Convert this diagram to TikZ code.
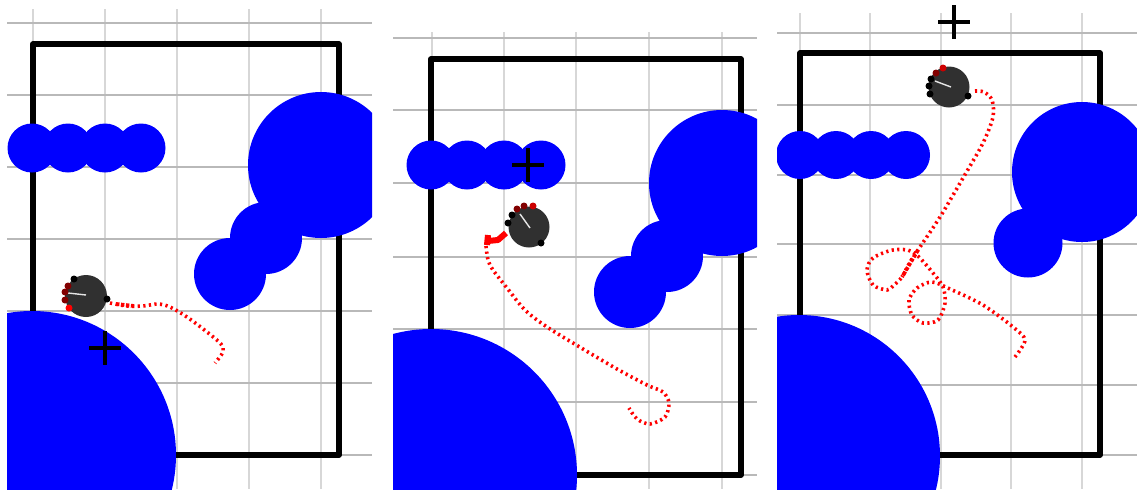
\documentclass[tikz,border=0pt]{standalone}
\usepackage{xcolor}
\definecolor{obst}{RGB}{0,0,255}
\definecolor{body}{RGB}{48,48,48}
\definecolor{gridh}{RGB}{185,185,185}
\definecolor{gridv}{RGB}{215,215,215}
\definecolor{sens}{RGB}{130,0,0}
\usetikzlibrary{calc}
\tikzset{
  gridrow/.style={gridh,line width=0.55pt},
  gridcol/.style={gridv,line width=0.6pt},
  wall/.style={black,line width=2.9pt,line join=round},
  obstacle/.style={fill=obst,draw=none},
  trail/.style={red,line width=1.8pt,dash pattern=on 1.1pt off 1.7pt},
  trailheavy/.style={red,line width=1.9pt,dash pattern=on 1.7pt off 0.8pt},
  trailblob/.style={red,line width=3pt,line join=round},
  goal/.style={black,line width=2.1pt},
  robot/.style={fill=body,draw=none},
  heading/.style={white!90!black,line width=0.7pt}
}
\newcommand{\goalmark}[1]{\draw[goal] ($(#1)+(-16,0)$) -- ($(#1)+(16,0)$) ($(#1)+(0,-17)$) -- ($(#1)+(0,17)$);}

\begin{document}
\begin{tikzpicture}[x=0.5pt,y=-0.5pt]
  \useasboundingbox (0,0) rectangle (1137,489);

  % left panel
  \begin{scope}
    \clip (7,9) rectangle (372,489);
    \foreach \gx in {33,105,177,249,321} \draw[gridcol] (\gx,9) -- (\gx,489);
    \foreach \gy in {23,95,167,239,311,383,455} \draw[gridrow] (7,\gy) -- (372,\gy);
    \draw[wall] (33,44) rectangle (339,455);
    \foreach \cx in {32,68,105,141} \fill[obstacle] (\cx,148) circle (24.5);
    \fill[obstacle] (321,165) circle (73);
    \fill[obstacle] (266,238) circle (36);
    \fill[obstacle] (230,274) circle (36);
    \fill[obstacle] (32,455) circle (144);
    \draw[trail] plot[smooth] coordinates {(110,303) (127,306) (143,306) (158,304) (170,307) (187,317) (207,332) (221,344) (223,352) (215,363)};
    \draw[trailheavy] (116,304) -- (134,306);
    \goalmark{105,348}
    \fill[robot] (86,296) circle (21);
    \draw[heading] (68,293) -- (86,295);
    \foreach \sx/\sy in {74/279,107/299} \fill[black] (\sx,\sy) circle (3.5);
    \foreach \sx/\sy in {68/286,65/292,65/300} \fill[sens] (\sx,\sy) circle (3.5);
    \fill[red] (69,308) circle (3.5);
  \end{scope}

  % middle panel
  \begin{scope}
    \clip (393,32) rectangle (757,489);
    \foreach \gx in {432,504,576,649,722} \draw[gridcol] (\gx,32) -- (\gx,489);
    \foreach \gy in {38,110,183,257,329,402,475} \draw[gridrow] (393,\gy) -- (757,\gy);
    \draw[wall] (431,59) rectangle (741,475);
    \foreach \cx in {431,467,504,541} \fill[obstacle] (\cx,165) circle (24.5);
    \fill[obstacle] (722,183) circle (73);
    \fill[obstacle] (667,256) circle (36);
    \fill[obstacle] (630,292) circle (36);
    \fill[obstacle] (431,475) circle (146);
    \draw[trailblob] (506,233) -- (498,240) -- (488,241) (488,235) -- (487,245);
    \draw[trail] plot[smooth] coordinates {(486,246) (488,260) (493,270) (507,288) (525,310) (547,327) (583,349) (617,369) (647,385) (663,392) (669,403) (665,417) (650,424) (637,419) (629,408)};
    \goalmark{528,165}
    \fill[robot] (529,227) circle (20.5);
    \draw[heading] (520,214) -- (530,228);
    \foreach \sx/\sy in {512/215,508/223,541/243} \fill[black] (\sx,\sy) circle (3.5);
    \foreach \sx/\sy in {517/209,524/206} \fill[sens] (\sx,\sy) circle (3.5);
    \fill[red!80!black] (533,206) circle (3.5);
  \end{scope}

  % right panel
  \begin{scope}
    \clip (777,13) rectangle (1137,489);
    \foreach \gx in {800,870,941,1011,1082} \draw[gridcol] (\gx,13) -- (\gx,489);
    \foreach \gy in {33,105,175,244,315,385,455} \draw[gridrow] (777,\gy) -- (1137,\gy);
    \draw[wall] (800,53) rectangle (1100,455);
    \foreach \cx in {800,836,871,906} \fill[obstacle] (\cx,155) circle (24);
    \fill[obstacle] (1082,172) circle (70);
    \fill[obstacle] (1028,243) circle (34.5);
    \fill[obstacle] (799,456) circle (141);
    \draw[trail] plot[smooth] coordinates {(975,91) (984,92) (992,100) (993,117) (983,143) (963,178) (940,217) (920,247) (910,262) (902,277) (893,286) (887,290) (873,285) (867,270) (873,258) (893,250) (913,252) (933,273) (943,287) (945,303) (938,320) (923,323) (912,315) (909,300) (917,288) (932,282) (950,289) (983,305) (1013,327) (1025,340) (1015,357)};
    \draw[trailheavy] (918,250) -- (902,277);
  \end{scope}
  \goalmark{954,22}
  \fill[robot] (949,87) circle (20.5);
  \draw[heading] (935,81) -- (951,87);
  \foreach \sx/\sy in {931/79,929/86,930/94,968/96} \fill[black] (\sx,\sy) circle (3.5);
  \fill[sens] (936,73) circle (3.5);
  \fill[red!80!black] (943,68) circle (3.5);
\end{tikzpicture}
\end{document}
